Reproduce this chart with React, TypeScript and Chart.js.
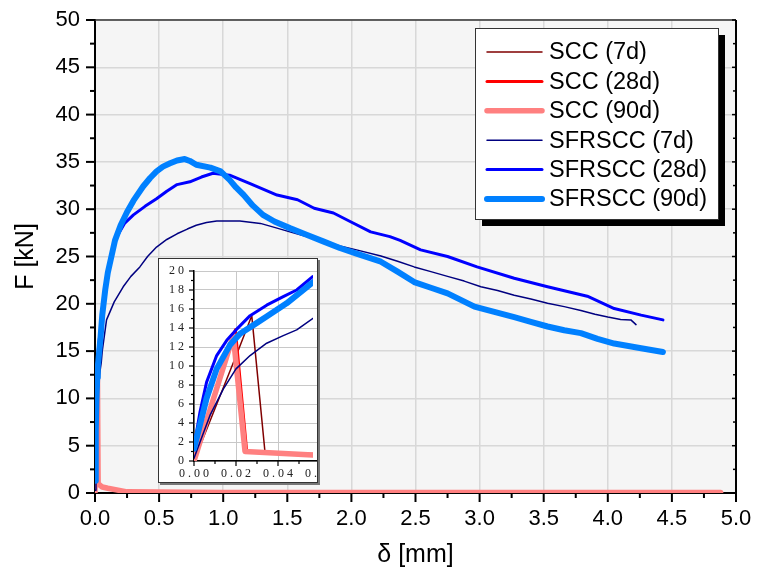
import React, { useEffect, useRef } from "react";
import { Chart, registerables } from "chart.js";
Chart.register(...registerables);

// ---------- data ----------
const seriesLabels = ["SCC (7d)", "SCC (28d)", "SCC (90d)", "SFRSCC (7d)", "SFRSCC (28d)", "SFRSCC (90d)"];

const scc7dX = [0, 0.021, 0.0275, 0.0338, 0.06, 0.12, 0.25, 0.6];
const scc7dF = [0, 11.6, 15.3, 0.95, 0.7, 0.5, 0.1, 0.05];

const scc28dX = [0, 0.0197, 0.0251, 0.05, 0.1, 0.25, 0.6];
const scc28dF = [0, 13.8, 1.0, 0.75, 0.55, 0.1, 0.05];

const scc90dX = [0, 0.0187, 0.0243, 0.0565, 0.1, 0.25, 1.0, 2.0, 3.0, 4.0, 4.88];
const scc90dF = [0, 13.2, 1.0, 0.63, 0.5, 0.12, 0.05, 0.05, 0.05, 0.05, 0.05];

const sfr7dX = [0, 0.0076, 0.014, 0.02, 0.0267, 0.0346, 0.0425, 0.0489, 0.0565, 0.09, 0.15, 0.22, 0.28, 0.35, 0.41, 0.48, 0.56, 0.64, 0.72, 0.79, 0.87, 0.95, 1.13, 1.29, 1.42, 1.52, 1.65, 1.78, 1.91, 2.04, 2.23, 2.36, 2.49, 2.62, 2.75, 2.88, 3.01, 3.14, 3.27, 3.4, 3.53, 3.66, 3.79, 3.9, 4.0, 4.1, 4.18, 4.22];
const sfr7dF = [0.3, 4.8, 7.6, 9.7, 11.1, 12.4, 13.2, 13.8, 15.0, 18.3, 20.2, 21.8, 22.9, 23.9, 25.0, 26.0, 26.8, 27.4, 27.9, 28.3, 28.6, 28.75, 28.75, 28.5, 28.0, 27.6, 27.1, 26.6, 26.1, 25.7, 25.05, 24.5, 23.9, 23.4, 22.9, 22.4, 21.8, 21.4, 20.9, 20.5, 20.05, 19.7, 19.3, 18.9, 18.6, 18.35, 18.3, 17.8];

const sfr28dX = [0, 0.0029, 0.006, 0.0108, 0.0156, 0.02, 0.0267, 0.0346, 0.0425, 0.0489, 0.0565, 0.08, 0.12, 0.17, 0.23, 0.3, 0.39, 0.48, 0.56, 0.64, 0.74, 0.83, 0.92, 1.05, 1.21, 1.42, 1.58, 1.71, 1.86, 1.99, 2.15, 2.3, 2.38, 2.54, 2.75, 2.98, 3.27, 3.53, 3.84, 4.05, 4.26, 4.43];
const sfr28dF = [1.5, 5.2, 8.3, 11.1, 12.7, 13.8, 15.3, 16.4, 17.3, 18.0, 19.4, 21.5, 24.5, 27.1, 28.5, 29.4, 30.3, 31.1, 31.9, 32.6, 32.9, 33.4, 33.8, 33.6, 32.7, 31.5, 31.0, 30.1, 29.6, 28.7, 27.6, 27.1, 26.7, 25.7, 25.0, 23.9, 22.7, 21.8, 20.8, 19.5, 18.8, 18.3];

const sfr90dX = [0, 0.006, 0.0108, 0.0171, 0.0219, 0.0283, 0.0346, 0.0441, 0.0565, 0.08, 0.1, 0.156, 0.2, 0.25, 0.3, 0.375, 0.43, 0.48, 0.53, 0.586, 0.64, 0.7, 0.74, 0.79, 0.9, 0.98, 1.05, 1.1, 1.16, 1.23, 1.31, 1.4, 1.52, 1.65, 1.78, 1.91, 2.04, 2.23, 2.36, 2.49, 2.62, 2.75, 2.96, 3.1, 3.27, 3.4, 3.53, 3.66, 3.79, 3.92, 4.05, 4.26, 4.43];
const sfr90dF = [1.3, 6.6, 9.7, 12.2, 13.4, 14.3, 15.2, 16.6, 18.8, 21.5, 23.3, 26.7, 28.3, 29.7, 30.9, 32.4, 33.3, 34.0, 34.5, 34.85, 35.15, 35.3, 35.1, 34.7, 34.4, 34.0, 33.1, 32.3, 31.5, 30.4, 29.4, 28.7, 28.0, 27.3, 26.6, 25.9, 25.3, 24.45, 23.4, 22.3, 21.7, 21.1, 19.7, 19.2, 18.6, 18.1, 17.6, 17.2, 16.9, 16.3, 15.8, 15.3, 14.9];

const seriesX = [scc7dX, scc28dX, scc90dX, sfr7dX, sfr28dX, sfr90dX];
const seriesF = [scc7dF, scc28dF, scc90dF, sfr7dF, sfr28dF, sfr90dF];

// ---------- styles ----------
const colors = ["#800000", "#ff0000", "#ff8080", "#000080", "#0000ff", "#0080ff"];
const lineWidths = [1.5, 3, 5.5, 1.5, 3, 6];
const SANS = 'Arial, "Liberation Sans", Helvetica, sans-serif';
const SERIF = '"Liberation Serif", "Times New Roman", "DejaVu Serif", serif';

function makeDatasets(clip?: any) {
  return seriesLabels.map((label, i) => ({
    label,
    data: seriesX[i].map((x, k) => ({ x, y: seriesF[i][k] })),
    borderColor: colors[i],
    backgroundColor: colors[i],
    borderWidth: lineWidths[i],
    pointRadius: 0,
    tension: 0,
    fill: false,
    borderJoinStyle: "round" as const,
    borderCapStyle: "round" as const,
    order: seriesLabels.length - 1 - i,
    ...(clip ? { clip } : {}),
  }));
}

const midpoints = (vals: number[]) => {
  const out: number[] = [];
  for (let i = 0; i < vals.length - 1; i++) out.push((vals[i] + vals[i + 1]) / 2);
  return out;
};

const plotBgPlugin = {
  id: "plotBg",
  beforeDraw(chart: any, _a: any, opts: any) {
    const { ctx, chartArea: a } = chart;
    ctx.save();
    ctx.fillStyle = opts.color || "#fff";
    ctx.fillRect(a.left, a.top, a.right - a.left, a.bottom - a.top);
    ctx.restore();
  },
};

const axisTicksPlugin = {
  id: "axisTicks",
  afterDraw(chart: any, _a: any, opts: any) {
    const { ctx, chartArea: a } = chart;
    const xs = chart.scales.x;
    const ys = chart.scales.y;
    const mx = xs.ticks.map((t: any) => t.value);
    const my = ys.ticks.map((t: any) => t.value);
    const nx = midpoints(mx).filter((v) => v <= xs.max);
    const ny = midpoints(my).filter((v) => v <= ys.max);
    ctx.save();
    ctx.strokeStyle = "#000";
    ctx.lineWidth = opts.width;
    const seg = (x0: number, y0: number, x1: number, y1: number) => {
      ctx.beginPath();
      ctx.moveTo(x0, y0);
      ctx.lineTo(x1, y1);
      ctx.stroke();
    };
    mx.forEach((v: number) => { const p = xs.getPixelForValue(v); seg(p, a.bottom, p, a.bottom + opts.major); });
    nx.forEach((v: number) => { const p = xs.getPixelForValue(v); seg(p, a.bottom, p, a.bottom + opts.minor); });
    my.forEach((v: number) => { const p = ys.getPixelForValue(v); seg(a.left, p, a.left - opts.major, p); });
    ny.forEach((v: number) => { const p = ys.getPixelForValue(v); seg(a.left, p, a.left - opts.minor, p); });
    if (opts.frame) {
      ctx.strokeStyle = "#333";
      ctx.lineWidth = 1.5;
      seg(a.left, a.top, a.right, a.top);
      ctx.strokeStyle = "#000";
      ctx.lineWidth = 2;
      seg(a.right, a.top, a.right, a.bottom + 1);
      ctx.lineWidth = 1.5;
      my.forEach((v: number) => { const p = ys.getPixelForValue(v); seg(a.right, p, a.right - 4, p); });
      ny.forEach((v: number) => { const p = ys.getPixelForValue(v); seg(a.right, p, a.right - 3, p); });
    }
    ctx.restore();
  },
};

const boxLegendPlugin = {
  id: "boxLegend",
  afterDraw(chart: any, _a: any, o: any) {
    if (!o || !o.show) return;
    const { ctx } = chart;
    ctx.save();
    ctx.fillStyle = "#000";
    ctx.fillRect(o.x + o.shadow, o.y + o.shadow, o.w, o.h);
    ctx.fillStyle = "#fff";
    ctx.fillRect(o.x, o.y, o.w, o.h);
    ctx.strokeStyle = "#333";
    ctx.lineWidth = 1;
    ctx.strokeRect(o.x + 0.5, o.y + 0.5, o.w, o.h);
    chart.data.datasets.forEach((ds: any, i: number) => {
      const cy = o.firstRow + i * o.rowH;
      ctx.strokeStyle = ds.borderColor;
      ctx.lineWidth = ds.borderWidth;
      ctx.lineCap = "round";
      ctx.beginPath();
      ctx.moveTo(o.lineX0, cy);
      ctx.lineTo(o.lineX1, cy);
      ctx.stroke();
      ctx.fillStyle = "#000";
      ctx.font = `${o.fontSize}px ${SANS}`;
      ctx.textBaseline = "middle";
      ctx.textAlign = "left";
      ctx.fillText(ds.label, o.textX, cy + 1);
    });
    ctx.restore();
  },
};

export default function App() {
  const mainRef = useRef<HTMLCanvasElement>(null);
  const insetRef = useRef<HTMLCanvasElement>(null);

  useEffect(() => {
    Chart.defaults.font.family = SANS;
    const main = new Chart(mainRef.current!, {
      type: "line",
      data: { datasets: makeDatasets() as any },
      plugins: [plotBgPlugin, axisTicksPlugin, boxLegendPlugin],
      options: {
        animation: false,
        responsive: false,
        layout: { padding: { top: 20, right: 21, left: 0, bottom: 0 } },
        plugins: {
          legend: { display: false },
          tooltip: { enabled: false },
          plotBg: { color: "#f5f5f5" },
          axisTicks: { major: 9, minor: 5, width: 2, frame: true },
          boxLegend: {
            show: true, x: 475, y: 28, w: 243, h: 191, shadow: 7,
            firstRow: 52, rowH: 29.4, lineX0: 487, lineX1: 542, textX: 549, fontSize: 23.5,
          },
        } as any,
        scales: {
          x: {
            type: "linear",
            min: 0,
            max: 5,
            ticks: {
              stepSize: 0.5,
              autoSkip: false,
              maxRotation: 0,
              color: "#000",
              padding: 13,
              font: { size: 22 },
              callback: (v: any) => Number(v).toFixed(1),
            },
            grid: { color: "#d8d8d8", lineWidth: 1.5, drawTicks: false },
            border: { color: "#000", width: 2 },
            title: { display: true, text: "δ [mm]", color: "#000", font: { size: 25 }, padding: { top: 0, bottom: 7 } },
            afterFit: (s: any) => { s.height = 84; s.paddingLeft = 0; s.paddingRight = 0; },
          },
          y: {
            type: "linear",
            min: 0,
            max: 50,
            ticks: {
              stepSize: 5,
              autoSkip: false,
              color: "#000",
              padding: 15,
              font: { size: 22 },
              callback: (v: any) => String(v),
            },
            grid: { color: "#d8d8d8", lineWidth: 1.5, drawTicks: false },
            border: { color: "#000", width: 2 },
            title: { display: true, text: "F [kN]", color: "#000", font: { size: 25 }, padding: { top: 11, bottom: 0 } },
            afterFit: (s: any) => { s.width = 95; s.paddingTop = 0; s.paddingBottom = 0; },
          },
        },
      },
    });

    const spaced = (s: string) => s.split("").join(" ");
    const inset = new Chart(insetRef.current!, {
      type: "line",
      data: { datasets: makeDatasets({ left: 0, top: 0, right: -7, bottom: 0 }) as any },
      plugins: [plotBgPlugin, axisTicksPlugin],
      options: {
        animation: false,
        responsive: false,
        layout: { padding: { top: 12, right: 29, left: 0, bottom: 0 } },
        plugins: {
          legend: { display: false },
          tooltip: { enabled: false },
          plotBg: { color: "#fff" },
          axisTicks: { major: 5, minor: 3, width: 1.2, frame: false },
        } as any,
        scales: {
          x: {
            type: "linear",
            min: 0,
            max: 0.06,
            ticks: {
              stepSize: 0.02,
              autoSkip: false,
              maxRotation: 0,
              color: "#222",
              padding: 6,
              font: { size: 12, family: SERIF },
              callback: (v: any) => spaced(Number(v).toFixed(2)),
            },
            grid: { color: "#c8c8c8", lineWidth: 1, drawTicks: false },
            border: { color: "#000", width: 1.5 },
            afterFit: (s: any) => { s.height = 21; s.paddingLeft = 0; s.paddingRight = 0; },
          },
          y: {
            type: "linear",
            min: 0,
            max: 20,
            ticks: {
              stepSize: 2,
              autoSkip: false,
              color: "#222",
              padding: 10,
              font: { size: 12, family: SERIF },
              callback: (v: any) => spaced(String(v)),
            },
            grid: { color: "#c8c8c8", lineWidth: 1, drawTicks: false },
            border: { color: "#000", width: 1.5 },
            afterFit: (s: any) => { s.width = 35; s.paddingTop = 0; s.paddingBottom = 0; },
          },
        },
      },
    });

    return () => {
      main.destroy();
      inset.destroy();
    };
  }, []);

  return (
    <div style={{ position: "absolute", left: 0, top: 0, width: 757, height: 577, background: "#fff" }}>
      <canvas ref={mainRef} width={757} height={577} style={{ position: "absolute", left: 0, top: 0 }} />
      <div
        style={{
          position: "absolute",
          left: 158,
          top: 258,
          width: 158,
          height: 223,
          border: "1px solid #333",
          boxShadow: "2px 2px 0 #777",
          background: "#fff",
          overflow: "hidden",
        }}
      >
        <canvas ref={insetRef} width={190} height={223} style={{ position: "absolute", left: 0, top: 0 }} />
      </div>
    </div>
  );
}
